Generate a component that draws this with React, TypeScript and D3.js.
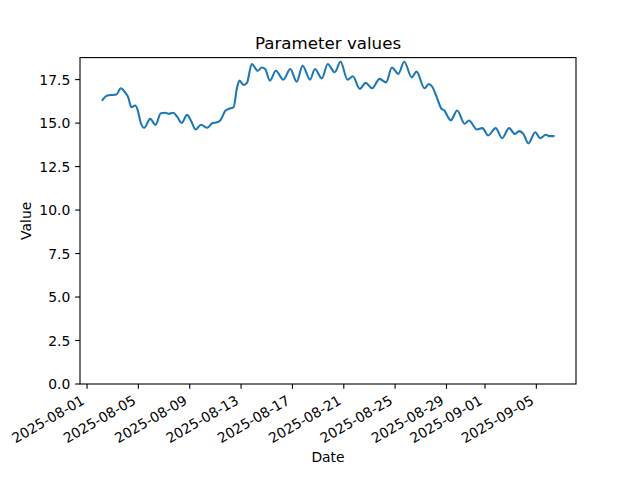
import React from "react";
import * as d3 from "d3";

const times: string[] = [
  "2025-08-02T05:00", "2025-08-02T13:00", "2025-08-03T00:00", "2025-08-03T07:00", "2025-08-03T15:00",
  "2025-08-03T23:00", "2025-08-04T05:00", "2025-08-04T11:00", "2025-08-04T18:00", "2025-08-04T23:00",
  "2025-08-05T04:00", "2025-08-05T11:00", "2025-08-05T22:00", "2025-08-06T08:00", "2025-08-06T18:00",
  "2025-08-07T03:00", "2025-08-07T09:00", "2025-08-07T17:00", "2025-08-08T01:00", "2025-08-08T09:00",
  "2025-08-08T19:00", "2025-08-09T03:00", "2025-08-09T11:00", "2025-08-09T21:00", "2025-08-10T09:00",
  "2025-08-10T18:00", "2025-08-11T03:00", "2025-08-11T09:00", "2025-08-11T19:00", "2025-08-12T04:00",
  "2025-08-12T10:00", "2025-08-12T16:00", "2025-08-12T21:00", "2025-08-13T05:00", "2025-08-13T11:00",
  "2025-08-13T20:00", "2025-08-14T07:00", "2025-08-14T15:00", "2025-08-14T21:00", "2025-08-15T06:00",
  "2025-08-15T17:00", "2025-08-16T07:00", "2025-08-16T20:00", "2025-08-17T08:00", "2025-08-17T19:00",
  "2025-08-18T09:00", "2025-08-18T18:00", "2025-08-19T07:00", "2025-08-19T18:00", "2025-08-20T07:00",
  "2025-08-20T18:00", "2025-08-21T07:00", "2025-08-21T17:00", "2025-08-22T06:00", "2025-08-22T17:00",
  "2025-08-23T05:00", "2025-08-23T19:00", "2025-08-24T07:00", "2025-08-24T18:00", "2025-08-25T06:00",
  "2025-08-25T17:00", "2025-08-26T07:00", "2025-08-26T16:00", "2025-08-27T07:00", "2025-08-27T15:00",
  "2025-08-27T22:00", "2025-08-28T07:00", "2025-08-28T14:00", "2025-08-28T20:00", "2025-08-29T05:00",
  "2025-08-29T08:00", "2025-08-29T20:00", "2025-08-30T10:00", "2025-08-30T18:00", "2025-08-31T09:00",
  "2025-08-31T19:00", "2025-09-01T06:00", "2025-09-01T20:00", "2025-09-02T08:00", "2025-09-02T21:00",
  "2025-09-03T08:00", "2025-09-03T16:00", "2025-09-04T00:00", "2025-09-04T09:00", "2025-09-04T22:00",
  "2025-09-05T07:00", "2025-09-05T18:00", "2025-09-06T00:00", "2025-09-06T08:00",
];

const values: number[] = [
  16.33, 16.57, 16.62, 16.64, 17.0,
  16.77, 16.48, 15.91, 16.01, 15.72,
  15.05, 14.73, 15.24, 14.9, 15.57,
  15.59, 15.53, 15.59, 15.34, 15.01,
  15.47, 15.09, 14.63, 14.9, 14.73,
  14.99, 15.05, 15.15, 15.72, 15.85,
  15.91, 16.97, 17.44, 17.19, 17.31,
  18.4, 18.01, 18.2, 18.11, 17.44,
  18.01, 17.5, 18.11, 17.38, 18.3,
  17.5, 18.11, 17.57, 18.4, 17.92,
  18.53, 17.5, 17.69, 16.97, 17.31,
  17.0, 17.54, 17.34, 18.2, 17.83,
  18.53, 17.63, 17.96, 17.0, 17.25,
  17.06, 16.39, 15.85, 15.72, 15.24,
  15.15, 15.72, 14.96, 15.15, 14.63,
  14.71, 14.29, 14.71, 14.13, 14.71,
  14.37, 14.54, 14.37, 13.83, 14.47,
  14.13, 14.33, 14.25, 14.25,
];

const xTickDates: string[] = [
  "2025-08-01", "2025-08-05", "2025-08-09", "2025-08-13", "2025-08-17",
  "2025-08-21", "2025-08-25", "2025-08-29", "2025-09-01", "2025-09-05",
];
const yTicks: number[] = [0, 2.5, 5, 7.5, 10, 12.5, 15, 17.5];

const W = 640, H = 480;
const L = 80, R = 576, T = 57.6, B = 384;
const FONT = "DejaVu Sans, sans-serif";
const FS = 13.9;

export default function App() {
  const parse = (s: string) => new Date(s + (s.length === 10 ? "T00:00" : ""));
  const data = times.map((t, i) => ({ t: parse(t), v: values[i] }));
  const [t0, t1] = d3.extent(data, (d) => +d.t) as [number, number];
  const pad = (t1 - t0) * 0.05;
  const x = d3.scaleTime().domain([new Date(t0 - pad), new Date(t1 + pad)]).range([L, R]);
  const vmax = d3.max(values)!;
  const vmin = d3.min(values)!;
  const y = d3.scaleLinear().domain([0, vmax + (vmax - vmin) * 0.05]).range([B, T]);
  const line = d3
    .line<{ t: Date; v: number }>()
    .x((d) => x(d.t))
    .y((d) => y(d.v))
    .curve(d3.curveMonotoneX);
  const tickLen = 4.86;
  return (
    <svg width={W} height={H} style={{ display: "block", position: "absolute", left: 0, top: 0 }} fontFamily={FONT}>
      <rect x={0} y={0} width={W} height={H} fill="white" />
      <path d={line(data) || ""} fill="none" stroke="#1f77b4" strokeWidth={2.08} strokeLinejoin="round" strokeLinecap="square" />
      <rect x={L} y={T} width={R - L} height={B - T} fill="none" stroke="black" strokeWidth={1.1} />
      {yTicks.map((v) => (
        <g key={v}>
          <line x1={L - tickLen} x2={L} y1={y(v)} y2={y(v)} stroke="black" strokeWidth={1.1} />
          <text x={L - tickLen - 4.86} y={y(v)} dy="0.36em" textAnchor="end" fontSize={FS} fill="black">
            {v.toFixed(1)}
          </text>
        </g>
      ))}
      {xTickDates.map((s) => {
        const px = x(parse(s));
        const ax = px - 1.5;
        const ay = B + tickLen + 4.86 + 9.5;
        return (
          <g key={s}>
            <line x1={px} x2={px} y1={B} y2={B + tickLen} stroke="black" strokeWidth={1.1} />
            <text x={ax} y={ay} transform={`rotate(-30 ${ax} ${ay})`} textAnchor="end" fontSize={FS} fill="black">
              {s}
            </text>
          </g>
        );
      })}
      <text x={(L + R) / 2} y={T - 8.3} textAnchor="middle" fontSize={16.67} fill="black">
        Parameter values
      </text>
      <text x={(L + R) / 2} y={462} textAnchor="middle" fontSize={FS} fill="black">
        Date
      </text>
      <text x={31} y={(T + B) / 2} transform={`rotate(-90 31 ${(T + B) / 2})`} textAnchor="middle" fontSize={FS} fill="black">
        Value
      </text>
    </svg>
  );
}
